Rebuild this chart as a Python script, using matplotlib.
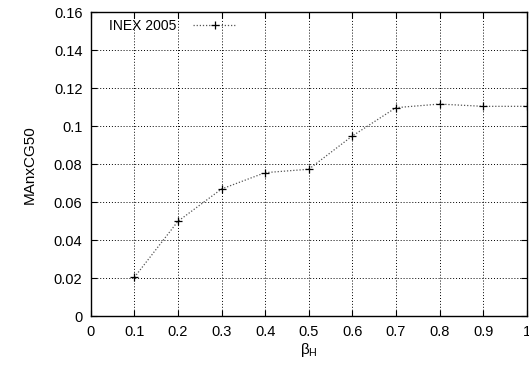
import numpy as np
import matplotlib.pyplot as plt

plt.rcParams['font.family'] = ['Liberation Sans', 'DejaVu Sans']

# MAnxCG50 against beta_H
beta_h = [0.1, 0.2, 0.3, 0.4, 0.5, 0.6, 0.7, 0.8, 0.9, 1.0]
manxcg50 = [0.0205, 0.050, 0.067, 0.0756, 0.0774, 0.0949, 0.1098, 0.1117, 0.1105, 0.1105]
xticks = [0, 0.1, 0.2, 0.3, 0.4, 0.5, 0.6, 0.7, 0.8, 0.9, 1]
xticklabels = ['0', '0.1', '0.2', '0.3', '0.4', '0.5', '0.6', '0.7', '0.8', '0.9', '1']
yticks = [0, 0.02, 0.04, 0.06, 0.08, 0.1, 0.12, 0.14, 0.16]
yticklabels = ['0', '0.02', '0.04', '0.06', '0.08', '0.1', '0.12', '0.14', '0.16']

W, H = 529, 370
fig = plt.figure(figsize=(W / 100, H / 100), dpi=100)
ax = fig.add_axes([0.1715, 0.1451, 0.8242, 0.8217])

ax.plot(beta_h, manxcg50, color='#555555', linestyle=(0, (1, 1.5)), linewidth=0.9,
        marker='+', markersize=6, markeredgecolor='black', markeredgewidth=0.9,
        label='INEX 2005')

ax.set_xlim(0, 1)
ax.set_ylim(0, 0.16)
ax.set_xticks(xticks)
ax.set_xticklabels(xticklabels)
ax.set_yticks(yticks)
ax.set_yticklabels(yticklabels)
ax.tick_params(direction='in', length=4, width=0.8, top=True, right=True,
               labelsize=10.5, pad=6)
ax.grid(True, color='black', linestyle=(0, (1, 2)), linewidth=0.7)
for s in ax.spines.values():
    s.set_linewidth(1.0)

ax.set_xlabel(r'$\mathregular{\beta_H}$', fontsize=11, labelpad=2)
ax.set_ylabel('MAnxCG50', fontsize=11, labelpad=12)

# gnuplot-style key: title first, then sample
leg = ax.legend(loc='upper left', bbox_to_anchor=(109 / W, 1 - 19 / H),
                bbox_transform=fig.transFigure, markerfirst=False, frameon=False,
                fontsize=10, handlelength=3.1, borderaxespad=0, borderpad=0,
                handletextpad=1.2)

fig.savefig('out.png', dpi=100)
